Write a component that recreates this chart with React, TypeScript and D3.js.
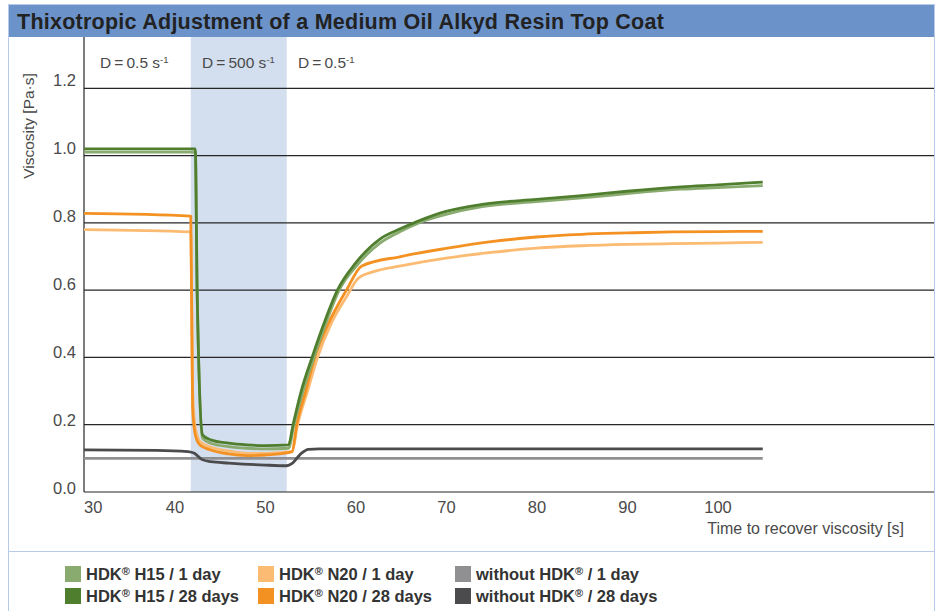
import React from 'react';
import * as d3 from 'd3';

type Pt = [number, number];

// time [s], viscosity [Pa·s]
const h15Day1: Pt[] = [
  [30, 1.01], [42.3, 1.01], [42.5, 0.6], [43.1, 0.16], [44, 0.145], [46, 0.135], [48, 0.13], [50, 0.128],
  [52.6, 0.13], [53.2, 0.2], [54.2, 0.3], [55.4, 0.4], [56.7, 0.5], [58.2, 0.6], [60.2, 0.675], [62.7, 0.74],
  [65, 0.775], [67, 0.8], [70, 0.825], [74, 0.848], [80, 0.863], [85, 0.874], [90, 0.887], [96, 0.9],
  [100, 0.905], [105, 0.911],
];
const h15Day28: Pt[] = [
  [30, 1.02], [42.3, 1.02], [42.5, 0.6], [43.1, 0.17], [44, 0.155], [46, 0.145], [48, 0.14], [50, 0.138],
  [52.6, 0.14], [53.1, 0.2], [54, 0.3], [55.2, 0.4], [56.5, 0.5], [58, 0.6], [60, 0.68], [62.7, 0.752],
  [65, 0.783], [67, 0.806], [70, 0.834], [74, 0.855], [80, 0.87], [85, 0.881], [90, 0.894], [96, 0.907],
  [100, 0.913], [105, 0.921],
];
const n20Day1: Pt[] = [
  [30, 0.78], [41.8, 0.773], [42, 0.3], [42.3, 0.19], [42.8, 0.15], [44, 0.133], [46, 0.122], [48, 0.115],
  [50, 0.115], [52, 0.118], [53, 0.12], [53.6, 0.2], [54.7, 0.3], [55.8, 0.4], [57.3, 0.5], [59, 0.58],
  [60.3, 0.635], [62, 0.655], [65, 0.672], [70, 0.695], [75, 0.712], [80, 0.725], [85, 0.732], [90, 0.736],
  [95, 0.738], [100, 0.74], [105, 0.742],
];
const n20Day28: Pt[] = [
  [30, 0.828], [41.8, 0.82], [42, 0.25], [42.3, 0.17], [42.8, 0.14], [44, 0.125], [46, 0.113], [48, 0.108],
  [50, 0.11], [52, 0.115], [53, 0.12], [53.5, 0.2], [54.5, 0.3], [55.5, 0.4], [57, 0.5], [59, 0.6],
  [60.7, 0.672], [65, 0.7], [70, 0.724], [75, 0.744], [80, 0.758], [85, 0.766], [90, 0.77], [95, 0.773],
  [100, 0.774], [105, 0.775],
];
const noneDay1: Pt[] = [[30, 0.1], [105, 0.1]];
const noneDay28: Pt[] = [
  [30, 0.125], [38, 0.124], [41.5, 0.12], [42.2, 0.115], [43, 0.097], [44, 0.09], [46, 0.086], [50, 0.08],
  [52.4, 0.078], [53, 0.085], [54, 0.115], [54.8, 0.127], [56, 0.128], [105, 0.128],
];

const seriesNames = ['H15 / 1 day', 'H15 / 28 days', 'N20 / 1 day', 'N20 / 28 days', 'without HDK / 1 day', 'without HDK / 28 days'];
const xTicks = [30, 40, 50, 60, 70, 80, 90, 100];
const yTicks = [0, 0.2, 0.4, 0.6, 0.8, 1.0, 1.2];
const shearBand = [41.8, 52.4];

const C = {
  g1: '#8aab6f', g28: '#4f7f2e', o1: '#fbbb72', o28: '#f39223', k1: '#909092', k28: '#4b4b4d',
  band: '#d3deee', title: '#6b93ca', frame: '#b9c9e9', text: '#4a4a4a', grid: '#262626',
};

const App: React.FC = () => {
  const W = 940, H = 611;
  const left = 84, right = 934, top = 37, bottom = 492;
  const x = d3.scaleLinear().domain([30, 30 + (right - left) / 9.05]).range([left, right]);
  const y = d3.scaleLinear().domain([0, 1.2]).range([bottom, 88.3]);
  const yLab = d3.scaleLinear().domain([0, 1.2]).range([488, 80]);
  const line = d3.line<Pt>().x(d => x(d[0])).y(d => y(d[1])).curve(d3.curveMonotoneX);
  const font = 'Liberation Sans, Arial, sans-serif';

  const lines: [Pt[], string][] = [
    [noneDay1, C.k1], [noneDay28, C.k28], [n20Day1, C.o1], [n20Day28, C.o28], [h15Day1, C.g1], [h15Day28, C.g28],
  ];

  const legend = [
    { c: C.g1, pre: 'HDK', post: ' ' + seriesNames[0], x: 65, row: 0 },
    { c: C.g28, pre: 'HDK', post: ' ' + seriesNames[1], x: 65, row: 1 },
    { c: C.o1, pre: 'HDK', post: ' ' + seriesNames[2], x: 258, row: 0 },
    { c: C.o28, pre: 'HDK', post: ' ' + seriesNames[3], x: 258, row: 1 },
    { c: C.k1, pre: 'without HDK', post: ' / 1 day', x: 455, row: 0 },
    { c: C.k28, pre: 'without HDK', post: ' / 28 days', x: 455, row: 1 },
  ];

  const regions = [
    { x: 100, main: 'D\u2009=\u20090.5 s', sup: '-1' },
    { x: 202, main: 'D\u2009=\u2009500 s', sup: '-1' },
    { x: 298, main: 'D\u2009=\u20090.5', sup: '-1' },
  ];

  return (
    <svg width={W} height={H} style={{ position: 'absolute', left: 0, top: 0 }} fontFamily={font}>
      <rect x={0} y={0} width={W} height={H} fill="#fff" />
      {/* frame + title bar */}
      <rect x={8.5} y={4.5} width={926} height={H} fill="none" stroke={C.frame} />
      <rect x={9} y={5} width={925} height={32} fill={C.title} />
      <text x={17} y={28.5} fontSize={21.5} fontWeight="bold" fill="#222" letterSpacing={0.25}>
        Thixotropic Adjustment of a Medium Oil Alkyd Resin Top Coat
      </text>

      {/* shear band */}
      <rect x={x(shearBand[0])} y={top} width={x(shearBand[1]) - x(shearBand[0])} height={bottom - top} fill={C.band} />

      {/* gridlines */}
      {yTicks.map(t => (
        <line key={t} x1={left} x2={right} y1={y(t)} y2={y(t)} stroke={C.grid} strokeWidth={1.2} />
      ))}
      <line x1={left} x2={left} y1={top} y2={bottom} stroke={C.grid} strokeWidth={1.2} />

      {/* y labels */}
      {yTicks.map(t => (
        <text key={t} x={76} y={yLab(t)} dy="0.35em" textAnchor="end" fontSize={16.5} fill={C.text}>
          {t.toFixed(1)}
        </text>
      ))}
      <text transform={`translate(34,126) rotate(-90)`} textAnchor="middle" fontSize={15.5} fill={C.text}>
        Viscosity [Pa·s]
      </text>

      {/* x labels */}
      {xTicks.map(t => (
        <text key={t} x={t === 30 ? x(t) : x(t) + 0.5} y={507} dy="0.35em" textAnchor={t === 30 ? 'start' : 'middle'} fontSize={16.5} fill={C.text}>
          {t}
        </text>
      ))}
      <text x={904} y={528} dy="0.35em" textAnchor="end" fontSize={16} fill={C.text}>
        Time to recover viscosity [s]
      </text>

      {/* region labels */}
      {regions.map(r => (
        <text key={r.x} x={r.x} y={63} dy="0.35em" fontSize={15.5} fill={C.text}>
          {r.main}
          <tspan fontSize={9.5} dy={-5}>{r.sup}</tspan>
        </text>
      ))}

      {/* curves */}
      {lines.map(([d, c], i) => (
        <path key={i} d={line(d) || ''} fill="none" stroke={c} strokeWidth={2.8} strokeLinejoin="round" />
      ))}

      {/* legend */}
      <line x1={9} x2={934} y1={551.5} y2={551.5} stroke={C.frame} />
      {legend.map((l, i) => (
        <g key={i} transform={`translate(${l.x},${566 + l.row * 22})`}>
          <rect x={0} y={0} width={16} height={16} fill={l.c} />
          <text x={21} y={8.5} dy="0.35em" fontSize={16.5} fontWeight="bold" fill="#333">
            {l.pre}
            <tspan fontSize={11} dy={-5}>®</tspan>
            <tspan dy={5}>{l.post}</tspan>
          </text>
        </g>
      ))}
    </svg>
  );
};

export default App;
